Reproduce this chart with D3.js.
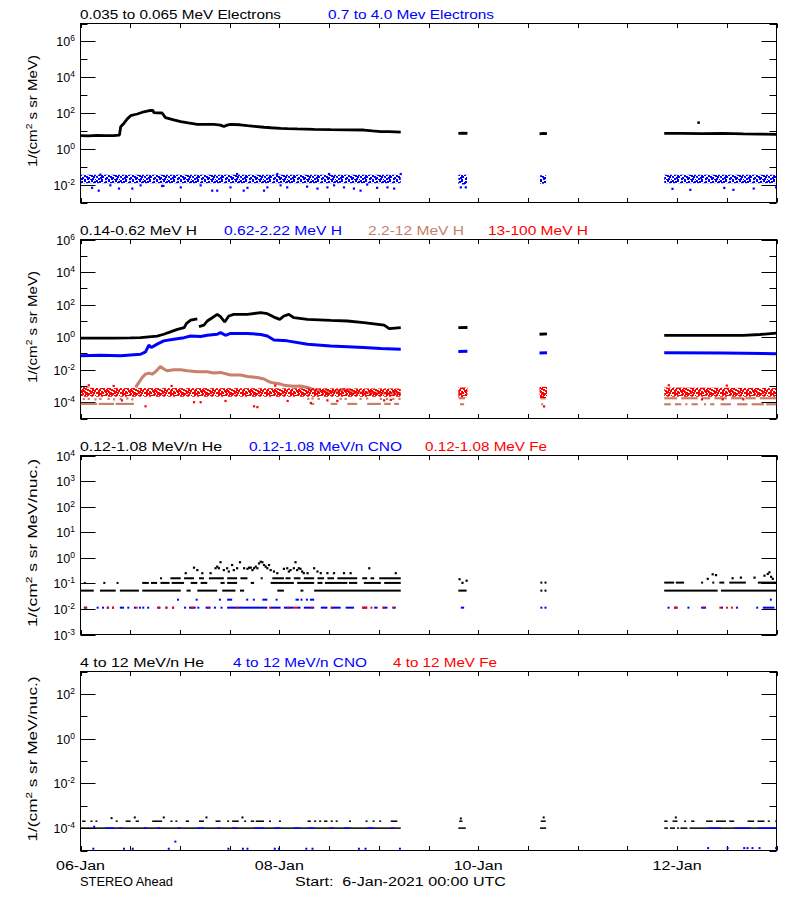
<!DOCTYPE html>
<html><head><meta charset="utf-8">
<script src="https://cdn.jsdelivr.net/npm/d3@7"></script>
<style>body{margin:0;background:#fff}svg{display:block}text{font-family:"Liberation Sans",Arial,sans-serif;white-space:pre}</style>
</head><body>
<svg id="c" width="800" height="900"></svg>
<script>
// ---------------- DATA (hours since 06-Jan-2021 00:00 UTC) ----------------
const xTickHours = [0,12,24,36,48,60,72,84,96,108,120,132,144,156,168];
const dateLabelHours = [0,48,96,144];
const dateLabels = ["06-Jan","08-Jan","10-Jan","12-Jan"];

// Panel 1 : electrons
const p1Titles = ["0.035 to 0.065 MeV Electrons","0.7 to 4.0 Mev Electrons"];
const eLowSegs = [
 [[0,5.5],[2,5.3],[4,5.6],[6,5.4],[8,5.5],[9.4,5.8],[9.7,17],[10.5,27],[11.3,47],[12.1,71],[13.7,88],[15.3,117],[16.9,141],[17.5,138],[17.7,104],[19.7,100],[20.5,55],[22.5,41],[24.2,33],[26,28],[28.2,23],[30,23],[32.2,23],[33.8,21],[34.6,17.4],[35.4,21],[36.2,23],[38.5,22],[40.3,19.5],[42,18],[44.3,16],[46,15],[48.3,14],[50,13.5],[52.3,13],[56.4,12.3],[60.4,11.8],[64.4,11.4],[68.4,11.2],[70.5,10],[72.5,9.2],[74.5,9],[77.3,8.5]],
 [[91.2,7.2],[92.3,7.5],[93.4,7.2]],
 [[110.8,6.8],[111.7,7.3],[112.6,7.0]],
 [[140.9,7.2],[145,7.3],[150,7.0],[155,7.2],[160,6.8],[164,6.6],[168,6.4]]
];
const eLowPts = [[149.2,29]];
const eHighBand = [
 [[0,0.012,0.035],[77.3,0.012,0.035]],
 [[91.2,0.010,0.035],[93.3,0.010,0.035]],
 [[110.9,0.011,0.033],[112.4,0.011,0.033]],
 [[140.9,0.012,0.036],[168,0.012,0.036]]
];
const eHighPts = [[2.8,0.0066],[4.4,0.0046],[7.2,0.0091],[9.3,0.006],[12.5,0.006],[14.5,0.0091],[19.7,0.0084],[20,0.0084],[24.2,0.007],[29.0,0.0091],[31.8,0.0046],[33.0,0.0046],[36.2,0.007],[39.4,0.0046],[40.3,0.0066],[44.3,0.0046],[45.1,0.007],[48.3,0.0091],[49.9,0.007],[54.7,0.0077],[57.2,0.006],[59.6,0.007],[61.2,0.0091],[63.6,0.007],[66.0,0.006],[67.6,0.0046],[69.2,0.01],[71.6,0.0066],[74.1,0.007],[75.7,0.006],[4.8,0.036],[37.8,0.039],[47.5,0.039],[60.0,0.039],[77.3,0.039],[91.8,0.007],[93.0,0.007],[142.9,0.0058],[147.2,0.0051],[155.4,0.0065],[157.6,0.0051],[162.5,0.006],[167.9,0.007]];

// Panel 2 : protons
const p2Titles = ["0.14-0.62 MeV H","0.62-2.22 MeV H","2.2-12 MeV H","13-100 MeV H"];
const hLowSegs = [
 [[0,0.87],[4,0.86],[8,0.88],[12,0.9],[14.5,0.93],[18.5,1.17],[20.1,1.5],[21.7,2.1],[23.4,3.0],[25.0,3.8],[25.6,7],[26.6,11],[28.2,13.4]],
 [[28.6,4.4],[29.8,5.4],[30.6,9.8],[31.8,15.6],[33.0,25],[33.8,18],[34.8,8.5],[35.8,20],[37.0,25],[40.3,25],[43.5,32],[45.1,27.5],[46.7,17],[48.1,12.3],[49.1,20],[50.3,25],[51.5,15.6],[54.8,12.3],[60.4,10.7],[64.4,9.8],[68.4,7.8],[73.3,5.4],[74.5,3.3],[77.3,3.8]],
 [[91.2,3.8],[93.4,3.9]],
 [[110.8,1.5],[112.6,1.6]],
 [[140.9,1.3],[150,1.3],[160,1.3],[164,1.45],[168,1.75]]
];
const hMidSegs = [
 [[0,0.071],[4.8,0.077],[9.7,0.071],[14.5,0.089],[15.7,0.125],[16.5,0.32],[17.1,0.23],[18.5,0.37],[20.1,0.59],[22.5,0.74],[25.0,0.93],[26.6,1.17],[29.0,1.1],[30.6,1.3],[33.0,1.5],[33.8,1.9],[35.0,1.3],[36.2,1.7],[40.3,1.7],[43.5,1.45],[45.1,1.17],[46.7,0.67],[49.9,0.59],[54.8,0.37],[60.4,0.29],[68.4,0.23],[72.5,0.2],[77.3,0.18]],
 [[91.2,0.13],[93.4,0.135]],
 [[110.8,0.105],[112.6,0.11]],
 [[140.9,0.11],[155,0.105],[168,0.095]]
];
const hHighSegs = [
 [[13.3,8.1e-4],[14.1,1.65e-3],[14.9,3.3e-3],[15.7,5.3e-3],[16.5,6.2e-3],[17.3,5.3e-3],[18.1,7.4e-3],[19.3,0.0158],[20.1,0.011],[20.9,8.6e-3],[22.5,0.01],[24.2,0.01],[25.8,8.6e-3],[28.2,7.4e-3],[30.6,7.4e-3],[32.2,6.2e-3],[33.8,6.8e-3],[36.2,4.7e-3],[38.6,4.7e-3],[40.3,3.8e-3],[42.7,3.3e-3],[44.3,2.7e-3],[45.5,1.8e-3],[46.7,1.5e-3],[48.3,1.3e-3],[49.5,1.05e-3],[51.5,9.5e-4],[53.1,1.0e-3],[54.8,8.1e-4],[56.4,5.9e-4],[58.8,4.5e-4],[61.2,4.5e-4],[63.6,6e-4],[66,4e-4],[70,3.8e-4],[74,3.5e-4],[77.3,3.5e-4]]
];
const hHighDash = [
 [0,4.0,7.9e-5],[4.4,8.1,7.9e-5],[8.5,12.9,7.9e-5],
 [55.6,56.4,7.9e-5],[60.4,62.0,7.9e-5],[64.4,66.8,7.9e-5],[69.2,72.5,7.9e-5],[73.3,74.9,7.9e-5],[75.7,76.9,7.9e-5],
 [91.3,92.8,1.75e-4],[91.6,92.6,7.5e-5],[111.0,112.3,1.75e-4],[111.2,111.6,7.5e-5],
 [140.9,144,1.75e-4],[145,149,1.75e-4],[150,152,1.75e-4],[153,156,1.75e-4],[157,160,1.75e-4],[160.5,163,1.75e-4],[164,168,1.75e-4],
 [140.9,142.5,7.5e-5],[143.5,145,7.5e-5],[146,146.5,7.5e-5],[147.5,149,7.5e-5],[150.5,151,7.5e-5],[152,153,7.5e-5],[154.5,157,7.5e-5],[158.5,161,7.5e-5],[162,165,7.5e-5],[165.5,168,7.5e-5]
];
const hHighPts = [[0.8,1.6e-4],[2.0,1.6e-4],[3.6,1.5e-4],[4.8,1.6e-4],[6.8,1.6e-4],[8.1,1.5e-4],[9.7,1.6e-4],[11.3,1.7e-4],[12.5,1.5e-4],[55,1.6e-4],[56,1.7e-4],[57.5,1.6e-4],[62.8,1.6e-4],[64,1.6e-4],[67.6,1.6e-4],[69.2,1.7e-4],[72.5,1.6e-4],[74,1.6e-4],[75.5,1.6e-4],[77,1.6e-4]];
const hTopBand = [
 [[0,2.2e-4,9e-4],[3,2.2e-4,7.5e-4],[77.3,2.2e-4,7e-4]],
 [[91.2,2.0e-4,8e-4],[93.4,2.0e-4,8e-4]],
 [[110.8,1.8e-4,9e-4],[112.6,1.8e-4,9e-4]],
 [[140.9,2.2e-4,8e-4],[168,2.2e-4,7.5e-4]]
];
const hTopPts = [[15.7,5.6e-5],[27.4,1.0e-4],[29,1.0e-4],[41.9,5.6e-5],[42.7,5e-5],[55.6,9e-5],[59.6,1.3e-4],[73.3,1.3e-4],[74.9,1.4e-4],[111.9,5.5e-5],[2,1.1e-3],[8,1.0e-3],[22,1.0e-3],[47,1.05e-3],[142,1.1e-3],[156,1.05e-3],[10,1.3e-4],[35,1.2e-4],[50,1.2e-4],[62,1.2e-4],[150,1.5e-4],[155,1.5e-4],[160,1.5e-4]];

// Panel 3 : 0.12-1.08 MeV/n heavy ions
const p3Titles = ["0.12-1.08 MeV/n He","0.12-1.08 MeV/n CNO","0.12-1.08 MeV Fe"];
const heLoDash = [
 [0,3.2,0.052],[4.7,8.5,0.052],[9.5,14.1,0.052],[14.9,24.2,0.052],[25.6,26.6,0.052],[28.2,33.0,0.052],[34.2,37.4,0.052],[38.5,39.5,0.052],[47.5,49.1,0.052],[53.1,53.8,0.052],[56.4,77.3,0.052],
 [91.2,93.2,0.052],[111.0,111.4,0.052],[112.0,112.4,0.052],[140.9,153.8,0.052],[154.6,167.9,0.052],
 [0.8,1.2,0.104],[5.5,6.0,0.104],[8.7,9.0,0.104],[14.9,16.5,0.104],[17.0,18.5,0.104],[19.3,21.5,0.104],[22.0,25.0,0.104],[26.6,28.2,0.104],[29.0,30.6,0.104],[33.8,34.8,0.104],[35.4,37.8,0.104],[41.1,41.9,0.104],[45.9,51.5,0.104],[52.3,56.4,0.104],[57.2,58.4,0.104],[59.0,64.4,0.104],[64.8,66.8,0.104],[68.4,72.5,0.104],[73.3,77.3,0.104],
 [111.0,111.4,0.107],[112.0,112.4,0.107],[140.9,143.3,0.107],[143.7,145.7,0.107],[149.8,150.2,0.107],[152.5,152.8,0.107],[154.2,155.4,0.107],[156.6,160.6,0.107],[163.5,168,0.107],
 [19.2,19.5,0.158],[21.7,24.2,0.158],[25.0,27.4,0.158],[28.6,29.8,0.158],[31.0,34.6,0.158],[35.4,37.8,0.158],[38.6,40.3,0.158],[43.5,43.9,0.158],[46.3,49.1,0.158],[49.5,50.7,0.158],[51.5,53.1,0.158],[53.9,56.4,0.158],[57.2,58.8,0.158],[59.6,61.2,0.158],[62.0,66.8,0.158],[68.0,69.2,0.158],[70.0,70.9,0.158],[72.1,77.3,0.158]
];
const heHiPts = [[25.4,0.25],[27.4,0.41],[28.2,0.33],[29.4,0.25],[31.4,0.25],[32.6,0.39],[33.0,0.45],[33.4,0.39],[33.8,0.67],[34.6,0.33],[35.4,0.39],[35.8,0.29],[36.6,0.52],[37.0,0.33],[37.8,0.39],[38.5,0.67],[39.5,0.39],[40.3,0.37],[40.7,0.41],[41.1,0.41],[41.5,0.33],[41.9,0.39],[42.3,0.45],[42.7,0.39],[43.1,0.6],[43.5,0.7],[43.9,0.67],[44.3,0.52],[44.7,0.45],[45.1,0.39],[45.5,0.52],[45.9,0.33],[46.7,0.29],[47.5,0.25],[49.1,0.37],[49.9,0.39],[50.3,0.29],[50.7,0.33],[51.5,0.39],[51.9,0.67],[52.3,0.33],[52.7,0.39],[53.1,0.37],[53.5,0.29],[53.9,0.25],[54.8,0.25],[56.4,0.39],[57.2,0.29],[58.0,0.25],[59.6,0.25],[61.2,0.25],[63.6,0.25],[65.2,0.25],[69.7,0.39],[76.1,0.25],
 [91.5,0.145],[92.2,0.105],[93.2,0.127],[151.4,0.15],[152.6,0.226],[153.4,0.21],[157.4,0.158],[159.4,0.167],[162.7,0.167],[165.1,0.2],[165.9,0.233],[166.3,0.27],[166.7,0.18],[167.1,0.15]];
const cnoDash = [
 [0.8,1.6,0.0112],[3.9,4.2,0.0112],[5.2,5.6,0.0112],[6.4,6.8,0.0112],[7.6,7.9,0.0112],[9.5,10.5,0.0112],[11.3,11.7,0.0112],[12.9,13.3,0.0112],[14.1,14.3,0.0112],[14.9,15.3,0.0112],[16.1,16.5,0.0112],[18.5,19.3,0.0112],[20.5,20.9,0.0112],[22.1,22.5,0.0112],[25.0,25.4,0.0112],[26.2,27.8,0.0112],[28.2,28.6,0.0112],[30.2,31.4,0.0112],[32.2,32.6,0.0112],[33.8,34.2,0.0112],[35.4,45.1,0.0112],[45.9,48.3,0.0112],[49.1,51.5,0.0112],[52.3,53.1,0.0112],[53.9,56.4,0.0112],[58.0,59.6,0.0112],[60.4,62.8,0.0112],[64.0,66.0,0.0112],[68.0,69.2,0.0112],[70.9,71.7,0.0112],[72.9,74.1,0.0112],[75.3,76.1,0.0112],
 [91.8,92.6,0.0112],[111.0,111.4,0.0112],[112.0,112.4,0.0112],[141.7,142.1,0.0112],[143.3,144.1,0.0112],[146.5,146.8,0.0112],[149.8,151.0,0.0112],[154.6,154.9,0.0112],[158.2,158.6,0.0112],[163.1,163.5,0.0112],[164.7,167.5,0.0112],
 [23.3,23.5,0.023],[27.8,28.2,0.023],[33.4,33.8,0.023],[35.4,36.6,0.023],[40.0,40.2,0.023],[41.6,41.8,0.023],[43.9,45.1,0.023],[47.1,47.5,0.023],[51.9,52.7,0.023],[53.1,53.5,0.023],[54.4,54.8,0.023],[55.4,56.4,0.023],[166.4,166.6,0.023]
];
const feDash = [
 [1.0,1.6,0.0112],[6.3,6.6,0.0112],[7.6,7.8,0.0112],[13.3,13.5,0.0112],[18.7,19.2,0.0112],[20.5,20.9,0.0112],[22.1,22.3,0.0112],[26.6,27.4,0.0112],[30.6,31.0,0.0112],[37.6,37.8,0.0112],[45.5,45.9,0.0112],[49.9,50.3,0.0112],[51.5,52.3,0.0112],[55.6,56.0,0.0112],[60.4,60.8,0.0112],[68.0,69.2,0.0112],[70.0,70.2,0.0112],[72.9,73.3,0.0112],[75.3,75.7,0.0112],
 [143.3,144.1,0.0112],[150.2,150.7,0.0112],[154.2,154.6,0.0112],[155.8,156.2,0.0112],[157.0,157.4,0.0112]
];

// Panel 4 : 4-12 MeV/n heavy ions
const p4Titles = ["4 to 12 MeV/n He","4 to 12 MeV/n CNO","4 to 12 MeV Fe"];
const he4Dash = [
 [0,77.3,1e-4],[91.2,93.0,1e-4],[110.9,112.4,1e-4],[140.9,141.8,1e-4],[142.3,143.5,1e-4],[144,144.3,1e-4],[144.8,146.5,1e-4],[147,168,1e-4],
 [0.4,1.2,2.04e-4],[2.4,2.8,2.04e-4],[3.6,4.0,2.04e-4],[8.5,8.9,2.04e-4],[10.9,12.1,2.04e-4],[13.3,14.1,2.04e-4],[17.3,19.7,2.04e-4],[21.7,22.1,2.04e-4],[22.9,23.1,2.04e-4],[25.4,26.2,2.04e-4],[28.6,29.8,2.04e-4],[32.6,33.8,2.04e-4],[35.4,35.8,2.04e-4],[36.6,38.2,2.04e-4],[39.5,39.9,2.04e-4],[41.1,41.9,2.04e-4],[42.3,44.3,2.04e-4],[45.5,45.9,2.04e-4],[47.9,48.1,2.04e-4],[54.8,55.6,2.04e-4],[56.4,56.8,2.04e-4],[57.6,58.0,2.04e-4],[58.8,59.6,2.04e-4],[60.4,60.8,2.04e-4],[61.6,62.0,2.04e-4],[64.8,65.0,2.04e-4],[68.8,69.2,2.04e-4],[70.5,70.9,2.04e-4],[72.1,72.3,2.04e-4],[74.9,76.5,2.04e-4],
 [91.4,92.2,2.04e-4],[111.1,112.3,2.04e-4],[140.9,141.7,2.04e-4],[142.9,144.1,2.04e-4],[145.7,145.9,2.04e-4],[147.4,148.2,2.04e-4],[151.0,152.6,2.04e-4],[153.4,155.8,2.04e-4],[156.6,157.8,2.04e-4],[161.0,162.6,2.04e-4],[163.4,165.1,2.04e-4],[165.9,166.1,2.04e-4],[167.7,167.9,2.04e-4]
];
const he4Pts = [[7.5,2.8e-4],[13.1,3e-4],[20.1,3e-4],[30.4,3e-4],[39.1,3e-4],[91.8,2.7e-4],[111.8,3e-4],[143.7,3e-4]];
const cno4Dash = [
 [6.0,8.1,1e-4],[9.3,10.1,1e-4],[15.3,16.1,1e-4],[18.5,19.3,1e-4],[23.4,24.2,1e-4],[28.2,29.8,1e-4],[33.0,33.8,1e-4],[36.6,37.8,1e-4],[41.9,44.3,1e-4],[46.7,48.3,1e-4],[51.5,53.1,1e-4],[54.8,56.4,1e-4],[60.0,61.2,1e-4],[63.6,65.2,1e-4],[69.2,70.9,1e-4],[74.9,75.7,1e-4],
 [151.4,154.6,1e-4],[157.8,161.8,1e-4],[163.5,168,1e-4]
];
const cno4Pts = [[3.3,1.15e-4],[3.1,1.2e-5],[10.5,1.2e-5],[12.6,1.2e-5],[21.3,1.2e-5],[22.9,2.5e-5],[35.7,1.2e-5],[39.2,1.2e-5],[40.3,1.2e-5],[46.9,1.2e-5],[47.9,1.2e-5],[54.5,1.2e-5],[56.0,1.2e-5],[67.2,1.2e-5],[68.8,1.2e-5],[77.1,1.2e-5],[151.5,1.28e-5],[156.2,1.28e-5],[160.2,1.28e-5],[161.0,1.28e-5],[162.2,1.28e-5],[163.9,1.28e-5],[167.9,1.28e-5]];

// y-axis settings
const p1Domain=[1e-3,1e7], p2Domain=[1e-5,1e6], p3Domain=[1e-3,1e4], p4Domain=[1e-5,1e3];
const p1Labels=[-2,0,2,4,6], p2Labels=[-4,-2,0,2,4,6], p3Labels=[-3,-2,-1,0,1,2,3,4], p4Labels=[-4,-2,0,2];
const yTitleA = "1/(cm", yTitleB = " s sr MeV)", yTitleC = " s sr MeV/nuc.)";

// ---------------- DRAWING ----------------
const BLACK="#000000", BLUE="#0000ff", BROWN="#c8806a", RED="#ff0000";
const svg = d3.select("#c");
const X0=80.5, X1=776.5, PH=179;
const x = d3.scaleLinear().domain([0,168]).range([X0,X1]);

// irregular speckle textures for noisy bands (style only)
const speckA=[[0,0],[3,1],[5,0],[9,1],[12,0],[16,1],[19,0],[22,1],[1,2],[6,3],[8,2],[11,3],[14,2],[18,3],[21,2],
 [0,4],[3,5],[7,4],[10,5],[13,4],[15,5],[20,4],[23,5],[2,6],[5,7],[8,6],[12,7],[17,6],[19,7],[22,6],
 [0,8],[4,9],[6,8],[10,9],[14,8],[16,9],[21,8],[2,10],[5,11],[9,10],[12,11],[15,10],[18,11],[20,10],[23,11]];
const speckExtra=[[1,0],[7,1],[14,0],[4,3],[16,2],[20,5],[9,7],[2,8],[13,9],[18,8],[7,11],[11,6]];
const defs=svg.append("defs");
[["spB",BLUE,speckA],["spR",RED,speckA.concat(speckExtra)]].forEach(([id,c,sp])=>{
  const p=defs.append("pattern").attr("id",id).attr("patternUnits","userSpaceOnUse").attr("width",24).attr("height",12);
  sp.forEach(([a,b])=>p.append("rect").attr("x",a).attr("y",b).attr("width",2).attr("height",2).attr("fill",c));
});

function panel(top, domain, labels, titles, colors, titleLens, titleXs, yTitle2, yTitleLen){
  const y=d3.scaleLog().domain(domain).range([top+PH, top]);
  const g=svg.append("g");
  titles.forEach((t,i)=>g.append("text").attr("x",titleXs[i]).attr("y",top-5).attr("font-size",12.5)
    .attr("fill",colors[i]).attr("textLength",titleLens[i]).attr("lengthAdjust","spacingAndGlyphs").text(t));
  g.append("rect").attr("x",X0).attr("y",top).attr("width",X1-X0).attr("height",PH)
    .attr("fill","none").attr("stroke","#000").attr("stroke-width",1);
  const lo=Math.round(Math.log10(domain[0])), hi=Math.round(Math.log10(domain[1]));
  d3.range(lo,hi+1).forEach(e=>{
    const yy=Math.round(y(Math.pow(10,e)))+0.5;
    const major=labels.includes(e);
    const L=major?15:7;
    g.append("line").attr("x1",X0).attr("x2",X0+L).attr("y1",yy).attr("y2",yy).attr("stroke","#000");
    g.append("line").attr("x1",X1).attr("x2",X1-L).attr("y1",yy).attr("y2",yy).attr("stroke","#000");
    if(major){
      const t=g.append("text").attr("x",75).attr("y",yy+4.5).attr("text-anchor","end").attr("font-size",12.5);
      t.append("tspan").text("10");
      t.append("tspan").attr("dy",-5.5).attr("font-size",8.5).text(String(e));
    }
  });
  xTickHours.forEach(h=>{
    const xx=Math.round(x(h))+0.5;
    g.append("line").attr("x1",xx).attr("x2",xx).attr("y1",top+PH).attr("y2",top+PH-4.5).attr("stroke","#000");
    g.append("line").attr("x1",xx).attr("x2",xx).attr("y1",top).attr("y2",top+4.5).attr("stroke","#000");
  });
  const cy=top+PH/2-2;
  const yt=g.append("text").attr("transform",`translate(37,${cy}) rotate(-90)`).attr("text-anchor","middle")
    .attr("font-size",12.5).attr("textLength",yTitleLen).attr("lengthAdjust","spacingAndGlyphs");
  yt.append("tspan").text(yTitleA);
  yt.append("tspan").attr("dy",-5).attr("font-size",8.5).text("2");
  yt.append("tspan").attr("dy",5).text(yTitle2);
  const clip="clip"+Math.round(top);
  defs.append("clipPath").attr("id",clip).append("rect").attr("x",X0).attr("y",top).attr("width",X1-X0).attr("height",PH);
  const d=g.append("g").attr("clip-path",`url(#${clip})`);
  return {y,d};
}
function lines(P,segs,color,w){
  const ln=d3.line().x(p=>x(p[0])).y(p=>P.y(p[1]));
  segs.forEach(s=>P.d.append("path").attr("d",ln(s)).attr("fill","none").attr("stroke",color).attr("stroke-width",w).attr("stroke-linejoin","bevel"));
}
function band(P,segs,pat){
  const ar=d3.area().x(p=>x(p[0])).y0(p=>P.y(p[1])).y1(p=>P.y(p[2]));
  segs.forEach(s=>P.d.append("path").attr("d",ar(s)).attr("fill",`url(#${pat})`));
}
function dashes(P,runs,color,th){
  runs.forEach(r=>{
    const a=x(r[0]), b=x(r[1]);
    P.d.append("rect").attr("x",a).attr("y",P.y(r[2])-th/2).attr("width",Math.max(2,b-a)).attr("height",th).attr("fill",color);
  });
}
function pts(P,list,color,s){
  list.forEach(p=>P.d.append("rect").attr("x",x(p[0])-s/2).attr("y",P.y(p[1])-s/2).attr("width",s).attr("height",s).attr("fill",color));
}

// Panel 1
const P1=panel(23.5,p1Domain,p1Labels,p1Titles,[BLACK,BLUE],[201,166],[80,328],yTitleB,112);
lines(P1,eLowSegs,BLACK,2.8); pts(P1,eLowPts,BLACK,2.5);
band(P1,eHighBand,"spB"); pts(P1,eHighPts,BLUE,2.2);
// Panel 2
const P2=panel(239.5,p2Domain,p2Labels,p2Titles,[BLACK,BLUE,BROWN,RED],[117,118,96,100],[80,224,368,488],yTitleB,112);
lines(P2,hLowSegs,BLACK,2.8); lines(P2,hMidSegs,BLUE,3);
dashes(P2,hHighDash,BROWN,2.2); pts(P2,hHighPts,BROWN,2.2); lines(P2,hHighSegs,BROWN,3);
band(P2,hTopBand,"spR"); pts(P2,hTopPts,RED,2.2);
// Panel 3
const P3=panel(455.5,p3Domain,p3Labels,p3Titles,[BLACK,BLUE,RED],[142,153,122],[80,249,425],yTitleC,168);
dashes(P3,heLoDash,BLACK,2); pts(P3,heHiPts,BLACK,2.2);
dashes(P3,cnoDash,BLUE,2); dashes(P3,feDash,RED,2);
// Panel 4
const P4=panel(671.5,p4Domain,p4Labels,p4Titles,[BLACK,BLUE,RED],[124,134,104],[80,233,393],yTitleC,165);
dashes(P4,he4Dash,BLACK,1.5); pts(P4,he4Pts,BLACK,2);
dashes(P4,cno4Dash,BLUE,1.5); pts(P4,cno4Pts,BLUE,2);

// bottom labels
dateLabels.forEach((t,i)=>svg.append("text").attr("x",x(dateLabelHours[i])).attr("y",870).attr("text-anchor","middle")
  .attr("font-size",12.5).attr("textLength",49).attr("lengthAdjust","spacingAndGlyphs").text(t));
svg.append("text").attr("x",80).attr("y",885.5).attr("font-size",12.5).attr("textLength",93).attr("lengthAdjust","spacingAndGlyphs").text("STEREO Ahead");
svg.append("text").attr("x",295).attr("y",885.5).attr("font-size",12.5).attr("textLength",211).attr("lengthAdjust","spacingAndGlyphs").text("Start:  6-Jan-2021 00:00 UTC");
</script>
</body></html>
